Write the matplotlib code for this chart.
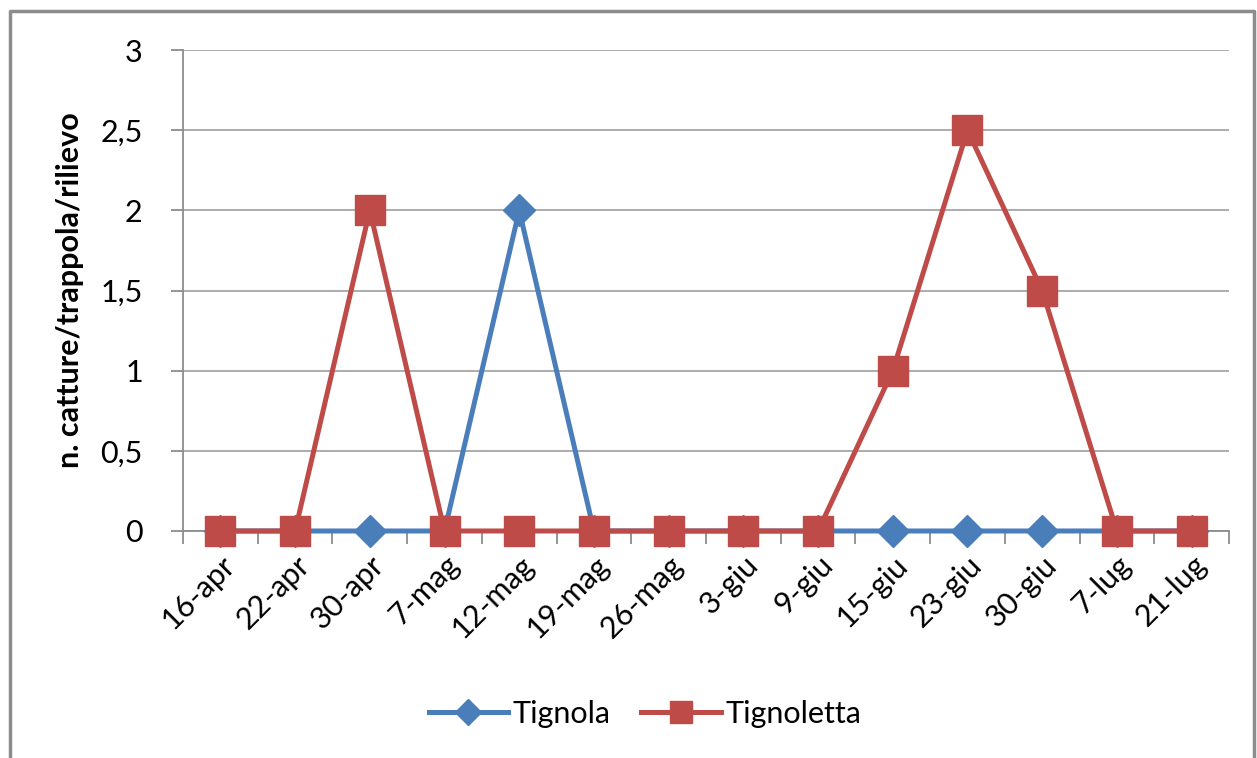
import matplotlib.pyplot as plt
from matplotlib.lines import Line2D

dates = ["16-apr", "22-apr", "30-apr", "7-mag", "12-mag", "19-mag", "26-mag",
         "3-giu", "9-giu", "15-giu", "23-giu", "30-giu", "7-lug", "21-lug"]
tignola = [0, 0, 0, 0, 2, 0, 0, 0, 0, 0, 0, 0, 0, 0]
tignoletta = [0, 0, 2, 0, 0, 0, 0, 0, 0, 1, 2.5, 1.5, 0, 0]

blue = "#4a7ebb"
red = "#be4b48"
font = "Lato"
fs = 22

fig = plt.figure(figsize=(12.57, 7.58), dpi=100)
ax = fig.add_axes([0.1456, 0.2995, 0.8321, 0.6345])

x = list(range(len(dates)))
ax.plot(x, tignola, color=blue, lw=3.6, marker="D", ms=16, mec=blue, mfc=blue,
        zorder=3, clip_on=False)
ax.plot(x, tignoletta, color=red, lw=3.6, marker="s", ms=21, mec=red, mfc=red,
        zorder=4, clip_on=False)

ax.set_xlim(-0.5, len(dates) - 0.5)
ax.set_ylim(0, 3)
yt = [0, 0.5, 1, 1.5, 2, 2.5, 3]
ax.set_yticks(yt)
ax.set_yticklabels([str(v).replace(".", ",").replace(",0", "") for v in yt],
                   fontsize=fs, family=font)
ax.yaxis.grid(True, color="#a6a6a6", lw=1.3)
ax.set_axisbelow(True)

ax.set_xticks([i - 0.5 for i in range(len(dates) + 1)])
ax.set_xticklabels([])
ax.set_xticks(x, minor=True)
ax.set_xticklabels(dates, minor=True, rotation=45, ha="right", va="top",
                   rotation_mode="anchor", fontsize=fs, family=font)
ax.tick_params(axis="x", which="minor", length=0, pad=14)
ax.tick_params(axis="x", which="major", length=9, width=1.3, color="#8c8c8c")
ax.tick_params(axis="y", length=9, width=1.3, color="#8c8c8c", pad=20)

for s in ["top", "right"]:
    ax.spines[s].set_visible(False)
for s in ["left", "bottom"]:
    ax.spines[s].set_color("#8c8c8c")
    ax.spines[s].set_linewidth(1.3)

ax.set_ylabel("n. catture/trappola/rilievo", fontsize=fs, fontweight="bold",
              family=font, labelpad=12)

handles = [Line2D([], [], color=blue, lw=3.6, marker="D", ms=13),
           Line2D([], [], color=red, lw=3.6, marker="s", ms=16)]
fig.legend(handles, ["Tignola", "Tignoletta"], loc="center", bbox_to_anchor=(0.513, 0.058),
           ncol=2, frameon=False, prop={"family": font, "size": fs},
           handlelength=2.6, columnspacing=1.0, handletextpad=0.15)

# chart area border
fig.add_artist(Line2D([0.008, 0.008, 0.998, 0.998], [0.0, 0.986, 0.986, 0.0],
                      transform=fig.transFigure, color="#8c8c8c", lw=2.5))

fig.savefig("out.png", dpi=100)
